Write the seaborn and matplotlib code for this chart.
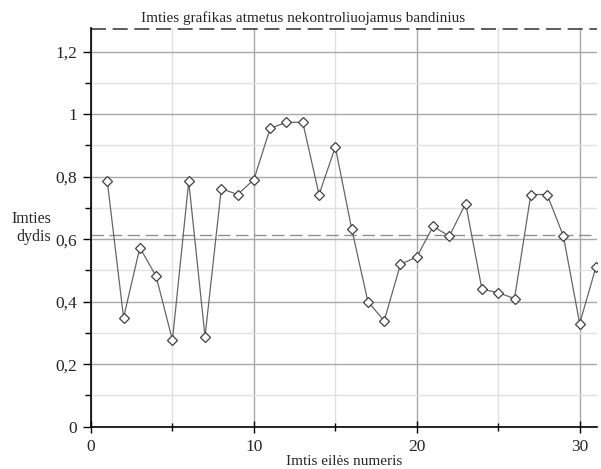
import matplotlib
matplotlib.use("Agg")
import matplotlib.pyplot as plt
import matplotlib.ticker as mticker
import seaborn as sns
import pandas as pd

sample_no = list(range(1, 32))
sample_size = [0.785, 0.349, 0.573, 0.481, 0.277, 0.785, 0.288, 0.762, 0.743, 0.791,
               0.955, 0.974, 0.974, 0.743, 0.895, 0.634, 0.400, 0.339, 0.520, 0.543,
               0.641, 0.610, 0.714, 0.440, 0.429, 0.410, 0.743, 0.743, 0.610, 0.330,
               0.511]
center_line = 0.615
upper_limit = 1.275
x_ticks = [0, 10, 20, 30]
y_ticks = [0, 0.2, 0.4, 0.6, 0.8, 1.0, 1.2]
y_tick_labels = ["0", "0,2", "0,4", "0,6", "0,8", "1", "1,2"]
title = "Imties grafikas atmetus nekontroliuojamus bandinius"
xlabel = "Imtis eilės numeris"
ylabel = "Imties\ndydis"

df = pd.DataFrame({"n": sample_no, "v": sample_size})

sns.set_theme(style="white")
plt.rcParams["font.family"] = ["Liberation Serif", "DejaVu Serif"]

fig = plt.figure(figsize=(6.01, 4.69), dpi=100)
ax = fig.add_axes([0.1514, 0.0902, 0.8416, 0.8495])

ax.set_xlim(0, 31.05)
ax.set_ylim(0, upper_limit)

ax.set_xticks(x_ticks)
ax.set_xticklabels([str(t) for t in x_ticks])
ax.set_yticks(y_ticks)
ax.set_yticklabels(y_tick_labels)
ax.xaxis.set_minor_locator(mticker.MultipleLocator(5))
ax.yaxis.set_minor_locator(mticker.MultipleLocator(0.1))

ax.grid(True, which="major", color="#a8a8a8", linewidth=1.0)
ax.grid(True, which="minor", color="#e0e0e0", linewidth=1.0)
ax.set_axisbelow(True)

ax.axhline(center_line, color="#909090", linestyle=(0, (9, 4)), linewidth=1.0, zorder=2)
ax.axhline(upper_limit - 0.002, color="#404040", linestyle=(0, (9, 4)), linewidth=1.2,
           zorder=2, clip_on=False)

sns.lineplot(data=df, x="n", y="v", ax=ax, color="#666666", linewidth=0.9,
             marker="D", markersize=5, markerfacecolor="white",
             markeredgecolor="#404040", markeredgewidth=0.9, zorder=3)

for s in ["top", "right"]:
    ax.spines[s].set_visible(False)
for s in ["left", "bottom"]:
    ax.spines[s].set_visible(True)
    ax.spines[s].set_color("black")
    ax.spines[s].set_linewidth(1.2)

ax.tick_params(axis="y", which="major", direction="out", length=6, width=1,
               color="black", left=True, labelsize=12.5, pad=4)
ax.tick_params(axis="y", which="minor", direction="out", length=4, width=1,
               color="black", left=True)
ax.tick_params(axis="x", which="major", direction="inout", length=8, width=1,
               color="black", bottom=True, labelsize=12.5, pad=5)
ax.tick_params(axis="x", which="minor", direction="inout", length=6, width=1,
               color="black", bottom=True)

ax.set_xlabel(xlabel, fontsize=11, labelpad=0)
ax.set_ylabel("")
fig.text(0.085, 0.514, ylabel, ha="right", va="center", fontsize=11.5,
         multialignment="right", linespacing=1.1)
fig.text(0.505, 0.962, title, ha="center", va="center", fontsize=11)

fig.savefig("out.png", dpi=100)
